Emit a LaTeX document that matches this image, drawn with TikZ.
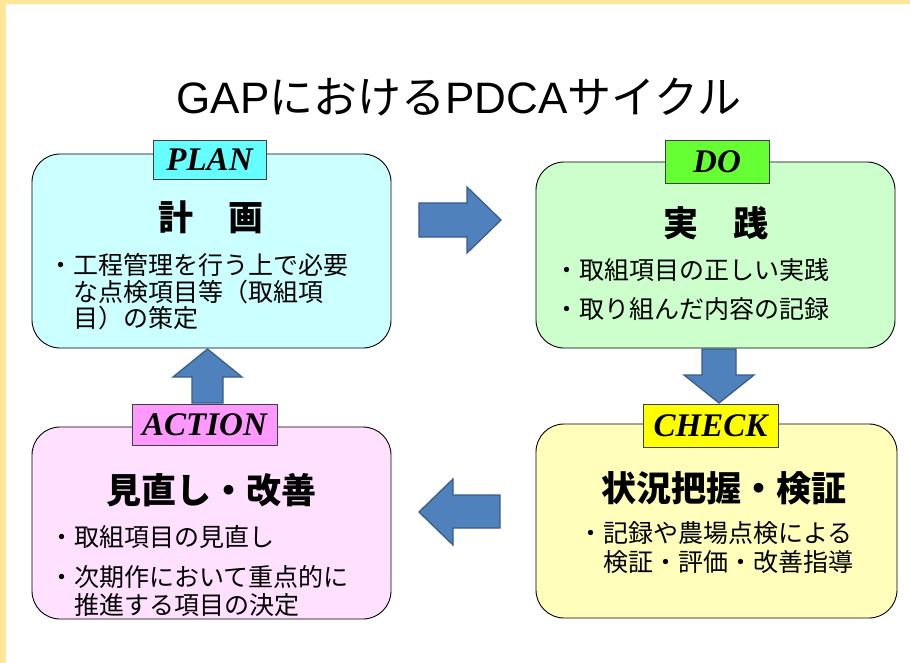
\documentclass[tikz,border=0pt]{standalone}
\usepackage{fontspec}
\newfontfamily\jp{Noto Sans CJK JP}
\newfontfamily\lsans{Liberation Sans}
\newfontfamily\lserif{Liberation Serif}
\definecolor{bordery}{HTML}{FFE79A}
\definecolor{planfill}{HTML}{CCFFFF}
\definecolor{planlab}{HTML}{66FFFF}
\definecolor{dofill}{HTML}{CCFFCC}
\definecolor{dolab}{HTML}{66FF33}
\definecolor{actfill}{HTML}{FFE1FF}
\definecolor{actlab}{HTML}{FF99FF}
\definecolor{chkfill}{HTML}{FFFFBB}
\definecolor{chklab}{HTML}{FFFF00}
\definecolor{arrfill}{HTML}{4F81BD}
\definecolor{arrdraw}{HTML}{385D8A}
\tikzset{
  phasebox/.style={draw=black, line width=0.9pt, rounded corners=28pt, inner sep=0pt},
  phaselab/.style={draw=black!75, line width=0.9pt, inner sep=0pt,
    font=\lserif\fontsize{33}{35}\selectfont\bfseries\itshape},
  head/.style={font=\jp\fontsize{35}{38}\selectfont\bfseries, inner sep=0pt},
  item/.style={font=\jp\fontsize{25}{27}\selectfont, inner sep=0pt, anchor=west},
  blockarrow/.style={fill=arrfill, draw=arrdraw, line width=1.3pt, line join=miter},
}
\begin{document}
\begin{tikzpicture}[x=1pt,y=-1pt]
\useasboundingbox (0,0) rectangle (910,663);
\fill[bordery] (0,0) rectangle (910,663);
\fill[white] (6,4) rectangle (910,663);

\node[font=\jp\fontsize{44}{48}\selectfont, inner sep=0pt] (title) at (459,97) {{\lsans GAP}における{\lsans PDCA}サイクル};

% boxes
\node[phasebox, fill=planfill, minimum width=359pt, minimum height=194pt] (plan) at (211.5,251) {};
\node[phasebox, fill=dofill, minimum width=359pt, minimum height=186pt] (do) at (715.5,255) {};
\node[phasebox, fill=actfill, minimum width=359pt, minimum height=192pt] (act) at (211.5,523) {};
\node[phasebox, fill=chkfill, minimum width=361pt, minimum height=194pt] (chk) at (716.5,521) {};

% block arrows
\draw[blockarrow] (419,203) -- (467,203) -- (467,187) -- (501,220) -- (467,253) -- (467,237) -- (419,237) -- cycle;
\draw[blockarrow] (702,349) -- (736,349) -- (736,375) -- (754,375) -- (719,403) -- (684,375) -- (702,375) -- cycle;
\draw[blockarrow] (192,403) -- (192,377) -- (173,377) -- (207.5,349) -- (242,377) -- (223,377) -- (223,403) -- cycle;
\draw[blockarrow] (500,495) -- (453,495) -- (453,479) -- (419,512) -- (453,545) -- (453,528) -- (500,528) -- cycle;

% labels
\node[phaselab, fill=planlab, minimum width=113pt, minimum height=39pt] (planlabel) at (209.5,159.5) {PLAN};
\node[phaselab, fill=dolab, minimum width=104pt, minimum height=43pt] (dolabel) at (717,161.5) {DO};
\node[phaselab, fill=actlab, minimum width=145pt, minimum height=41pt] (actlabel) at (204.5,424.5) {ACTION};
\node[phaselab, fill=chklab, minimum width=135pt, minimum height=43pt] (chklabel) at (710.5,425.5) {CHECK};

% PLAN text
\node[head] (planhead) at (211,217) {計　画};
\node[item] (plan1) at (48,265) {・工程管理を行う上で必要};
\node[item] (plan2) at (73,292) {な点検項目等（取組項};
\node[item] (plan3) at (73,318) {目）の策定};

% DO text
\node[head] (dohead) at (716,223) {実　践};
\node[item] (do1) at (554,270) {・取組項目の正しい実践};
\node[item] (do2) at (554,309) {・取り組んだ内容の記録};

% ACTION text
\node[head] (acthead) at (211,490) {見直し・改善};
\node[item] (act1) at (49,537) {・取組項目の見直し};
\node[item] (act2) at (49,577) {・次期作において重点的に};
\node[item] (act3) at (74,605) {推進する項目の決定};

% CHECK text
\node[head] (chkhead) at (724,488) {状況把握・検証};
\node[item] (chk1) at (578,533) {・記録や農場点検による};
\node[item] (chk2) at (603,562) {検証・評価・改善指導};
\end{tikzpicture}
\end{document}
